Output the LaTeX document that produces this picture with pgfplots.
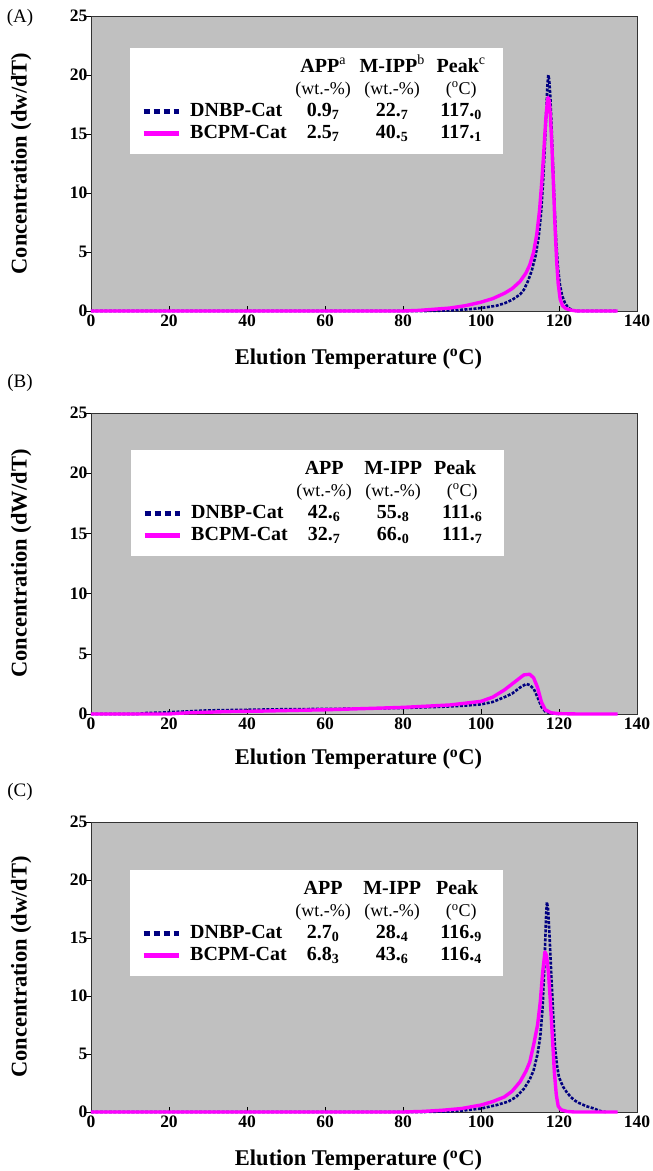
\documentclass[border=0pt]{standalone}
\usepackage{fontspec}
\setmainfont{Liberation Serif}
\usepackage{pgfplots}
\pgfplotsset{compat=1.18}

\definecolor{bggray}{RGB}{192,192,192}
\definecolor{dnbp}{RGB}{0,0,128}
\definecolor{bcpm}{RGB}{255,0,255}
\newcommand{\fs}[1]{\fontsize{#1}{#1}\selectfont}

\pgfplotsset{
  tref/.style={
    scale only axis, width=546pt,
    xmin=0, xmax=140, ymin=0, ymax=25,
    xtick={0,20,...,140}, ytick={0,5,...,25},
    tick pos=left, tick align=inside, major tick length=5pt,
    ytick style={xshift=-5pt, black, line width=0.6pt},
    xtick style={black, line width=0.6pt},
    axis background/.style={fill=bggray},
    axis line style={black!80, line width=0.8pt},
    /pgf/number format/assume math mode=true,
    ticklabel style={font=\bfseries\fs{17.5}},
    xlabel={Elution Temperature (\textsuperscript{o}C)},
    xlabel style={font=\bfseries\fs{22.5}, anchor=center},
    ylabel style={font=\bfseries\fs{22.5}, at={(axis description cs:-0.128,0.5)}, anchor=center},
    clip=false,
    legend cell align=left,
    legend style={draw=none, fill=white, anchor=north west,
      inner xsep=11pt, inner ysep=10pt, row sep=2pt,
      font=\bfseries\fs{20},
      nodes={inner sep=0pt, text height=14pt, text depth=6pt},
      /tikz/every odd column/.append style={column sep=9pt}},
    legend image code/.code={\draw[#1] (0pt,1pt) -- (35pt,1pt);},
  },
  navyline/.style={dnbp, line width=2.6pt, dash pattern=on 3pt off 1.5pt, line join=round},
  pinkline/.style={bcpm, line width=3.4pt, line join=round},
}

\newcommand{\row}[4]{\makebox[102pt][l]{#1}\makebox[62pt]{#2}\makebox[76pt]{#3}\makebox[62pt]{#4}}

\begin{document}
\begin{tikzpicture}
\useasboundingbox (0,0) rectangle (653pt,-1171pt);

% ---------------- (A)
\begin{axis}[tref, height=295pt, at={(91pt,-16pt)}, anchor=north west,
  ylabel={Concentration (dw/dT)},
  xlabel style={at={(axis description cs:0.49,-0.163)}},
  legend style={at={(0.0714,0.892)}}]
\addlegendimage{empty legend}
\addlegendentry{\row{}{APP\textsuperscript{\mdseries a}}{M-IPP\textsuperscript{\mdseries b}}{Peak\textsuperscript{\mdseries c}}}
\addlegendimage{empty legend}
\addlegendentry{\mdseries\fs{18}\row{}{(wt.-\%)}{(wt.-\%)}{(\textsuperscript{o}C)}}
\addlegendimage{dnbp, line width=5pt, dash pattern=on 6pt off 4pt}
\addlegendentry{\row{DNBP-Cat}{0.9\textsubscript{7}}{22.\textsubscript{7}}{117.\textsubscript{0}}}
\addlegendimage{bcpm, line width=5pt}
\addlegendentry{\row{BCPM-Cat}{2.5\textsubscript{7}}{40.\textsubscript{5}}{117.\textsubscript{1}}}
% DNBP-Cat
\addplot[navyline, forget plot] coordinates {
(0,0)(86,0)(90,0.03)(94,0.08)(98,0.18)(101,0.3)(104,0.45)(106,0.65)(108,0.95)
(110,1.4)(111,1.8)(112,2.5)(113,3.4)(114,4.7)(114.8,6.3)(115.4,8.3)(115.9,10.8)
(116.3,13.5)(116.7,16.5)(117.0,19.0)(117.25,20.0)(117.5,19.6)(117.8,18.0)
(118.1,15.5)(118.5,12.0)(118.9,8.5)(119.3,5.8)(119.7,3.8)(120.2,2.3)(120.8,1.3)
(121.5,0.7)(122.3,0.3)(123.3,0.08)(124.5,0)(135,0)};
% BCPM-Cat
\addplot[pinkline, forget plot] coordinates {
(0,0)(80,0)(84,0.05)(88,0.15)(92,0.25)(96,0.45)(100,0.75)(103,1.05)(106,1.5)
(108,1.9)(110,2.5)(111.5,3.2)(112.5,3.9)(113.5,5.0)(114.3,6.5)(115,8.5)(115.6,11)
(116.1,13.5)(116.6,16.2)(117.0,17.7)(117.2,18.1)(117.5,17.8)(117.8,16.5)
(118.2,13.8)(118.6,10.5)(119.0,7.0)(119.4,4.2)(119.8,2.3)(120.3,1.0)(120.9,0.45)
(121.8,0.2)(123,0.08)(124.5,0)(135,0)};
\end{axis}
\node[font=\fs{19}] at (20pt,-18pt) {(A)};

% ---------------- (B)
\begin{axis}[tref, height=301pt, at={(91pt,-413pt)}, anchor=north west,
  ylabel={Concentration (dW/dT)},
  xlabel style={at={(axis description cs:0.49,-0.15)}},
  legend style={at={(0.0733,0.877)}}]
\addlegendimage{empty legend}
\addlegendentry{\row{}{APP}{M-IPP}{\hspace*{-14pt}Peak}}
\addlegendimage{empty legend}
\addlegendentry{\mdseries\fs{18}\row{}{(wt.-\%)}{(wt.-\%)}{(\textsuperscript{o}C)}}
\addlegendimage{dnbp, line width=5pt, dash pattern=on 6pt off 4pt}
\addlegendentry{\row{DNBP-Cat}{42.\textsubscript{6}}{55.\textsubscript{8}}{111.\textsubscript{6}}}
\addlegendimage{bcpm, line width=5pt}
\addlegendentry{\row{BCPM-Cat}{32.\textsubscript{7}}{66.\textsubscript{0}}{111.\textsubscript{7}}}
% DNBP-Cat
\addplot[navyline, forget plot] coordinates {
(0,0)(12,0)(14,0.08)(18,0.12)(22,0.18)(30,0.3)(40,0.35)(50,0.4)(60,0.42)(70,0.45)
(80,0.5)(90,0.6)(96,0.7)(100,0.8)(103,1.0)(106,1.4)(108,1.7)(110,2.2)(111.6,2.5)
(112.5,2.4)(113.5,2.1)(114.5,1.4)(115.5,0.6)(116.5,0.2)(118,0.05)(120,0)};
% BCPM-Cat
\addplot[pinkline, forget plot] coordinates {
(0,0)(20,0)(22,0.05)(25,0.1)(30,0.15)(35,0.2)(45,0.25)(52,0.3)(60,0.35)(70,0.45)
(80,0.55)(86,0.65)(92,0.75)(96,0.9)(100,1.05)(103,1.4)(106,2.0)(108,2.5)(110,3.0)
(111,3.25)(112.5,3.3)(113.5,3.0)(114.5,2.2)(115.5,1.0)(116.5,0.35)(118,0.1)
(120,0.03)(125,0)(135,0)};
\end{axis}
\node[font=\fs{19}] at (20pt,-383pt) {(B)};

% ---------------- (C)
\begin{axis}[tref, height=290pt, at={(91pt,-822pt)}, anchor=north west,
  ylabel={Concentration (dw/dT)},
  xlabel style={at={(axis description cs:0.49,-0.166)}},
  legend style={at={(0.0714,0.834)}}]
\addlegendimage{empty legend}
\addlegendentry{\row{}{APP}{M-IPP}{\hspace*{-8pt}Peak}}
\addlegendimage{empty legend}
\addlegendentry{\mdseries\fs{18}\row{}{(wt.-\%)}{(wt.-\%)}{(\textsuperscript{o}C)}}
\addlegendimage{dnbp, line width=5pt, dash pattern=on 6pt off 4pt}
\addlegendentry{\row{DNBP-Cat}{2.7\textsubscript{0}}{28.\textsubscript{4}}{116.\textsubscript{9}}}
\addlegendimage{bcpm, line width=5pt}
\addlegendentry{\row{BCPM-Cat}{6.8\textsubscript{3}}{43.\textsubscript{6}}{116.\textsubscript{4}}}
% DNBP-Cat
\addplot[navyline, forget plot] coordinates {
(0,0)(85,0)(92,0.05)(96,0.15)(100,0.3)(104,0.6)(107,0.9)(109,1.3)(111,2.0)
(112.5,2.8)(113.5,3.6)(114.5,5.0)(115.2,6.5)(115.8,9.0)(116.3,13.0)(116.7,17.0)
(116.9,18.1)(117.2,17.5)(117.6,15.0)(118,12.0)(118.5,8.5)(119,5.5)(119.5,4.0)
(120,3.0)(121,2.2)(122,1.7)(123,1.3)(124,1.0)(125,0.8)(126,0.65)(127,0.5)
(128,0.4)(129,0.3)(130,0.15)(131,0.05)(132,0)};
% BCPM-Cat
\addplot[pinkline, forget plot] coordinates {
(0,0)(80,0)(85,0.05)(90,0.15)(95,0.3)(100,0.6)(103,0.9)(106,1.3)(108,1.8)(110,2.6)
(111.5,3.5)(112.5,4.3)(113.5,5.8)(114.5,7.5)(115.2,9.5)(115.8,12.0)(116.4,13.8)
(116.8,13.5)(117.3,12.0)(117.8,9.5)(118.3,6.5)(118.8,3.5)(119.3,1.5)(119.8,0.5)
(120.5,0.2)(122,0.05)(124,0)(135,0)};
\end{axis}
\node[font=\fs{19}] at (20pt,-792pt) {(C)};
\end{tikzpicture}
\end{document}
